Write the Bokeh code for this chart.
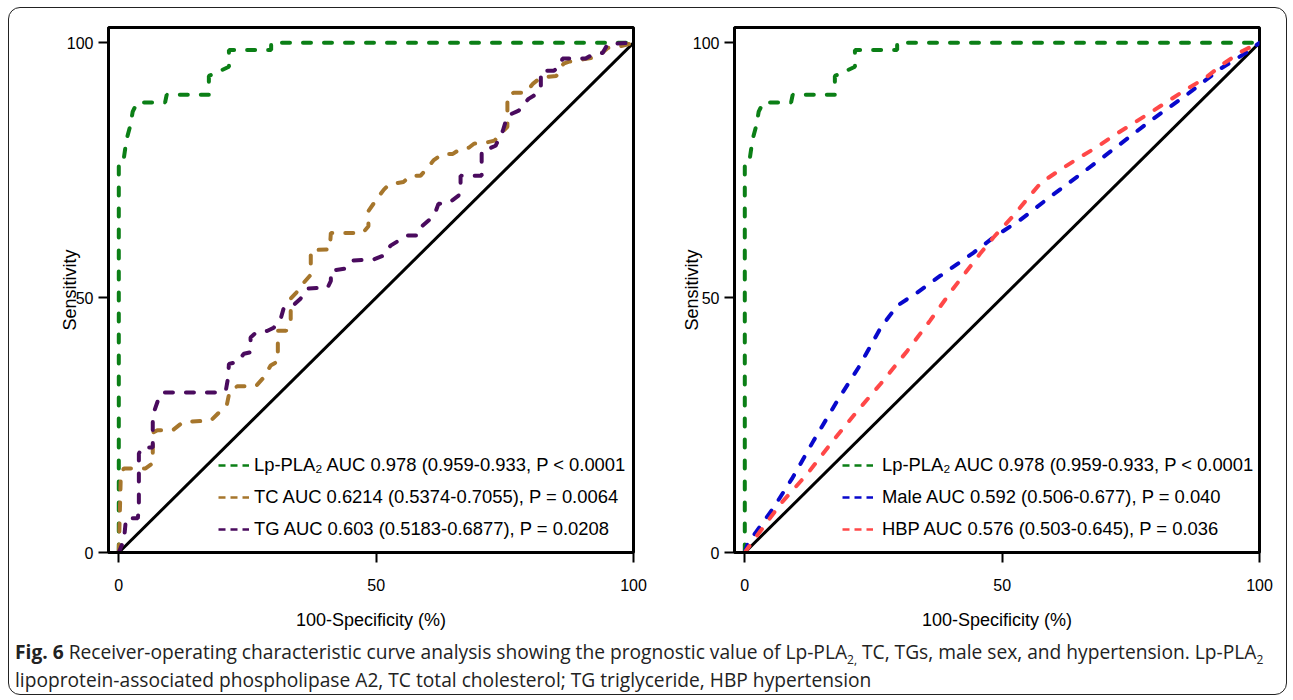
from bokeh.plotting import figure
from bokeh.models import Range1d, FixedTicker, Legend, LegendItem, Div
from bokeh.layouts import column, row
from bokeh.embed import file_html
from bokeh.resources import INLINE

# ---------------- data ----------------
ticks = [0, 50, 100]
x_title = "100-Specificity (%)"
y_title = "Sensitivity"

lp_x = [0, 0, 1.0, 1.5, 2.3, 2.7, 3.6, 9.0, 9.3, 17.5, 17.5, 19.3, 21.4, 21.4, 29.6, 29.6, 100]
lp_y = [0, 77, 77.5, 81, 84, 86.5, 88.3, 88.3, 89.8, 89.8, 93.5, 94.3, 95.3, 98.6, 98.6, 100, 100]

tc_x = [0, 0.4, 1.0, 5.2, 6.6, 6.6, 7.5, 10.5, 12.5, 17.9, 19.5, 21.0, 21.5, 23.0, 26.7, 28.3,
        29.5, 30.9, 30.9, 32.5, 33.4, 33.4, 34.5, 36.0, 37.3, 37.3, 41.0, 41.2, 47.4, 48.5, 48.5,
        50.3, 51.5, 52.5, 55.3, 56.7, 58.6, 60.0, 61.2, 62.9, 64.9, 66.4, 68.0, 69.0, 71.3, 73.0,
        74.3, 75.5, 75.5, 76.7, 79.0, 80.5, 82.0, 85.0, 86.4, 87.5, 93.0, 95.0, 97.0, 100]
tc_y = [0, 15.5, 16.5, 16.5, 17.5, 23.5, 24, 24, 25.6, 25.9, 27.5, 29, 31.5, 32.6, 32.7, 34.5,
        36.7, 37.5, 43.5, 43.5, 45, 49.8, 51, 53, 54.5, 59.3, 59.5, 62.7, 62.7, 64, 67,
        69.6, 71.2, 72.2, 72.7, 73.9, 73.9, 75.5, 77, 78.2, 78.2, 79.2, 79.4, 80.2, 80.4, 80.8,
        82.3, 83.5, 89.6, 90.2, 90.2, 92, 93.2, 93.5, 95.9, 96.3, 97.2, 99, 99.2, 100]

tg_x = [0, 0.4, 1.0, 1.4, 3.7, 3.9, 3.9, 4.5, 6.6, 6.6, 6.8, 7.6, 8.5, 19.8, 20.8, 21.2, 21.4,
        23.1, 24.3, 25.6, 25.6, 26.6, 28.9, 30.1, 31.5, 32.0, 33.8, 35.3, 36.7, 40.6, 41.2, 41.2,
        44.1, 45.6, 49.5, 51.3, 52.8, 54.4, 56.1, 58.1, 59.0, 60.6, 61.6, 62.1, 64.1, 66.0, 66.4,
        66.4, 70.5, 70.5, 71.8, 73.2, 74.6, 75.5, 77.7, 78.4, 79.6, 80.6, 82.0, 82.0, 84.5, 85.8,
        86.2, 90.7, 92.2, 94.0, 95.0, 100]
tg_y = [0, 1, 2.4, 6.7, 6.7, 9, 19.4, 20.6, 20.6, 25.9, 27.5, 29.8, 31.4, 31.4, 31.8, 34.1, 37,
        37.4, 39, 39.3, 42.2, 43.1, 43.5, 44.1, 46, 47.8, 48.4, 49.8, 51.8, 52, 53.3, 55.3,
        55.7, 57.3, 57.5, 58.2, 60.2, 61.2, 62.2, 62.2, 64.1, 65.5, 67, 68.4, 68.6, 70, 71.6,
        73.9, 73.9, 78.8, 79.2, 79.8, 82.7, 85.7, 86.7, 87.6, 89, 89.6, 91.2, 94.5, 94.5, 95.5,
        96.9, 96.9, 97.8, 98, 99.8, 100]

male_x = [0, 0.6, 5.6, 9.3, 13.4, 18, 22.1, 26.4, 29.6, 33.5, 38, 44.4, 48.3, 53.6, 59.6, 65.6,
          72, 78.8, 85.6, 92.4, 97.3, 100]
male_y = [0, 1.8, 8.8, 14.7, 22, 29.8, 36.3, 44.1, 48.4, 51, 54.3, 58.8, 61.8, 65.3, 70, 74.5,
          79.4, 84.7, 89.6, 94.9, 98, 100]

hbp_x = [0, 1.7, 7, 12.2, 17.2, 21.9, 26.4, 31.6, 36, 40.5, 45.7, 48.3, 52.2, 55.9, 57.5, 61,
         64.7, 68.2, 71.7, 75.3, 78.8, 82.3, 86, 89.5, 93, 96.7, 100]
hbp_y = [0, 2.4, 9.6, 15.5, 22, 27.8, 33.1, 39.6, 45.5, 51.8, 58.6, 61.8, 66.1, 70.6, 72.5, 74.9,
         77.3, 79.4, 81.8, 84.1, 86.3, 88.6, 91, 93.1, 95.9, 98.4, 100]

ref_x = [0, 100]
ref_y = [0, 100]

left_labels = ["Lp-PLA\u2082 AUC 0.978 (0.959-0.933, P < 0.0001",
               "TC AUC 0.6214 (0.5374-0.7055), P = 0.0064",
               "TG AUC 0.603 (0.5183-0.6877), P = 0.0208"]
right_labels = ["Lp-PLA\u2082 AUC 0.978 (0.959-0.933, P < 0.0001",
                "Male AUC 0.592 (0.506-0.677), P = 0.040",
                "HBP AUC 0.576 (0.503-0.645), P = 0.036"]

GREEN = "#0b7f16"
BROWN = "#a6762c"
PURPLE = "#4a0b5e"
BLUE = "#0808cc"
RED = "#ff4848"

FONT = "Liberation Sans"


def make_panel(width, border_left, border_right, series, labels, legend_x, standoff, ylab_standoff):
    p = figure(width=width, height=630, output_backend="svg", toolbar_location=None,
               x_range=Range1d(-2, 100), y_range=Range1d(0, 103),
               min_border_left=border_left, min_border_right=border_right,
               min_border_top=19, min_border_bottom=86,
               border_fill_color=None, background_fill_color="white",
               outline_line_color="black", outline_line_width=3)
    p.grid.visible = False
    for ax in (p.xaxis[0], p.yaxis[0]):
        ax.ticker = FixedTicker(ticks=ticks)
        ax.axis_line_width = 3
        ax.axis_line_color = "black"
        ax.major_tick_line_width = 2
        ax.major_tick_line_color = "black"
        ax.major_tick_out = 10
        ax.major_tick_in = 0
        ax.minor_tick_line_color = None
        ax.major_label_text_font = FONT
        ax.major_label_text_font_size = "16px"
        ax.major_label_text_color = "black"
        ax.axis_label_text_font = FONT
        ax.axis_label_text_font_size = "18px"
        ax.axis_label_text_font_style = "normal"
        ax.axis_label_text_color = "black"
    p.xaxis.axis_label = x_title
    p.yaxis.axis_label = y_title
    p.xaxis.major_label_standoff = 16
    p.xaxis.axis_label_standoff = 16
    p.yaxis.major_label_standoff = 5
    p.yaxis.axis_label_standoff = ylab_standoff

    p.line(ref_x, ref_y, line_color="black", line_width=3)
    items = []
    for (xs, ys, col), lab in zip(series, labels):
        p.line(xs, ys, line_color=col, line_width=4, line_dash="8 13", line_cap="round")
        # legend sample: a one-point line draws nothing on the plot itself
        dummy = p.line([0], [0], line_color=col, line_width=2.5, line_dash="7 5")
        items.append(LegendItem(label=lab, renderers=[dummy]))
    lg = Legend(items=items, location=(legend_x, 12), orientation="vertical",
                background_fill_alpha=0, border_line_alpha=0, padding=0, margin=0,
                spacing=10, glyph_width=31, glyph_height=20, label_height=20,
                label_standoff=standoff, label_text_font=FONT, label_text_font_size="18.4px",
                label_text_color="black")
    p.add_layout(lg)
    return p


p1 = make_panel(659, 99, 35,
                [(lp_x, lp_y, GREEN), (tc_x, tc_y, BROWN), (tg_x, tg_y, PURPLE)],
                left_labels, 110, 5, -16)
p2 = make_panel(618, 66, 27,
                [(lp_x, lp_y, GREEN), (male_x, male_y, BLUE), (hbp_x, hbp_y, RED)],
                right_labels, 108, 9, -12)

SUB = '<span style="font-size:12px;position:relative;top:5px;line-height:0">'
caption = Div(
    text=('<div style="font-family:\'Open Sans\';font-size:19.2px;line-height:28px;'
          'color:#222;margin:0;padding-left:6px;white-space:nowrap;">'
          '<b>Fig. 6</b> Receiver-operating characteristic curve analysis showing the prognostic '
          'value of Lp-PLA' + SUB + '2,</span> TC, TGs, male sex, and hypertension. '
          'Lp-PLA' + SUB + '2</span><br>'
          'lipoprotein-associated phospholipase A2, TC total cholesterol; TG triglyceride, '
          'HBP hypertension</div>'),
    width=1277, height=56, margin=(0, 0, 0, 0))

layout = column(row(p1, p2, spacing=0), caption, spacing=0, margin=(7, 0, 0, 8),
                styles={"border": "1.5px solid #222", "border-radius": "12px"})

open("out.html", "w").write(file_html(layout, INLINE))
